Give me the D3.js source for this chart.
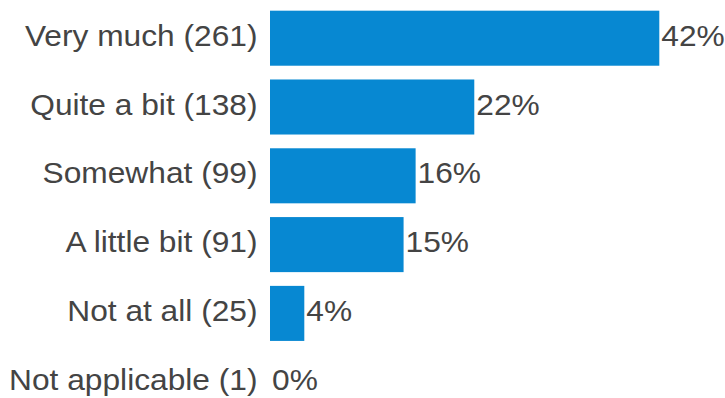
<!DOCTYPE html>
<html>
<head>
<meta charset="utf-8">
<script src="https://cdn.jsdelivr.net/npm/d3@7"></script>
<style>
  html, body { margin: 0; padding: 0; background: #fff; }
  svg { display: block; }
  text { font-family: "Liberation Sans", Arial, Helvetica, sans-serif; fill: #444; }
</style>
</head>
<body>
<svg id="chart" width="725" height="398"></svg>
<script>
// Survey responses: answer categories and respondent counts
const categories = ["Very much", "Quite a bit", "Somewhat", "A little bit", "Not at all", "Not applicable"];
const counts = [261, 138, 99, 91, 25, 1];

const total = d3.sum(counts);
const rows = categories.map((c, i) => ({ category: c, count: counts[i] }));

const barLeft = 270;       // left edge of the bars
const labelRight = 257.5;  // right edge of the category labels
const fontSize = 29.5;
const stretch = 1.075;

const svg = d3.select("#chart");

const x = d3.scaleLinear()
  .domain([0, d3.max(counts)])
  .range([barLeft - 3.3, 659.3]);

const y = d3.scaleBand()
  .domain(categories)
  .range([3.8, 416.6])
  .paddingInner(0.2)
  .paddingOuter(0.1);

const row = svg.selectAll("g.row")
  .data(rows)
  .join("g")
  .attr("class", "row");

row.append("rect")
  .attr("x", barLeft)
  .attr("y", d => y(d.category))
  .attr("width", d => Math.max(0, x(d.count) - barLeft))
  .attr("height", y.bandwidth())
  .attr("fill", "#0788d2");

row.append("text")
  .attr("transform", d => `translate(${labelRight},${y(d.category) + y.bandwidth() / 2 + 7.5}) scale(${stretch},1)`)
  .attr("text-anchor", "end")
  .style("font-size", fontSize + "px")
  .text(d => `${d.category} (${d.count})`);

row.append("text")
  .attr("transform", d => `translate(${Math.max(barLeft, x(d.count)) + 2},${y(d.category) + y.bandwidth() / 2 + 7.5}) scale(${stretch},1)`)
  .attr("text-anchor", "start")
  .style("font-size", fontSize + "px")
  .text(d => `${Math.round(d.count / total * 100)}%`);
</script>
</body>
</html>
